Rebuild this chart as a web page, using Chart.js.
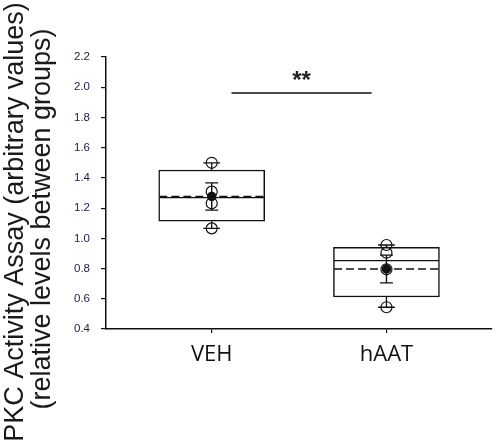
<!DOCTYPE html>
<html><head><meta charset="utf-8">
<script src="https://cdn.jsdelivr.net/npm/chart.js@4"></script>
<style>html,body{margin:0;padding:0;background:#fff}#wrap{width:498px;height:445px;position:relative}</style>
</head><body><div id="wrap"><canvas id="c" width="498" height="445"></canvas></div>
<script>
// ---- data ----
const groups = ['VEH', 'hAAT'];
const groupPos = [1, 2];
const q1 = [1.113, 0.612];
const q3 = [1.452, 0.941];
const medians = [1.270, 0.852];
const means = [1.277, 0.797];
const sem = [0.090, 0.092];
const whiskerLow = [1.066, 0.544];
const whiskerHigh = [1.500, 0.956];
const pointsVEH = [1.500, 1.309, 1.232, 1.066];
const pointsHAAT = [0.956, 0.905, 0.795, 0.544];
const yTicks = [0.4, 0.6, 0.8, 1.0, 1.2, 1.4, 1.6, 1.8, 2.0, 2.2];
const yTitleLines = ['PKC Activity Assay (arbitrary values)', '(relative levels between groups)'];
const sigLabel = '**';
const sigSpan = [1.113, 1.915];
const sigY = 1.962;
const sigTextY = 2.068;

// ---- styling constants ----
const boxHalf = 0.30;
const capHalf = 0.048;
const errCapHalf = 0.037;
const INK = '#111';

function hSegs(vals, half) {
  const out = [];
  groupPos.forEach((c, i) => {
    out.push({x: c - half, y: vals[i]}, {x: c + half, y: vals[i]}, {x: c, y: null});
  });
  return out;
}
const whiskerData = [];
groupPos.forEach((c, i) => {
  whiskerData.push({x: c, y: q3[i]}, {x: c, y: whiskerHigh[i]}, {x: c, y: null});
  whiskerData.push({x: c - capHalf, y: whiskerHigh[i]}, {x: c + capHalf, y: whiskerHigh[i]}, {x: c, y: null});
  whiskerData.push({x: c, y: q1[i]}, {x: c, y: whiskerLow[i]}, {x: c, y: null});
  whiskerData.push({x: c - capHalf, y: whiskerLow[i]}, {x: c + capHalf, y: whiskerLow[i]}, {x: c, y: null});
});
const errData = [];
groupPos.forEach((c, i) => {
  const lo = means[i] - sem[i], hi = means[i] + sem[i];
  errData.push({x: c, y: lo}, {x: c, y: hi}, {x: c, y: null});
  errData.push({x: c - errCapHalf, y: hi}, {x: c + errCapHalf, y: hi}, {x: c, y: null});
  errData.push({x: c - errCapHalf, y: lo}, {x: c + errCapHalf, y: lo}, {x: c, y: null});
});
const rawPts = [
  ...pointsVEH.map(v => ({x: groupPos[0], y: v})),
  ...pointsHAAT.map(v => ({x: groupPos[1], y: v}))
];
const meanPts = groupPos.map((c, i) => ({x: c, y: means[i]}));
const sigData = [{x: sigSpan[0], y: sigY}, {x: sigSpan[1], y: sigY}];

const lineBase = {type: 'line', borderColor: INK, borderWidth: 1.5, pointRadius: 0, fill: false, tension: 0, spanGaps: false};

const extras = {
  id: 'extras',
  afterDraw(chart) {
    const ctx = chart.ctx;
    const xs = chart.scales.x, ys = chart.scales.y;
    ctx.save();
    ctx.fillStyle = '#1a1a1a';
    ctx.font = '27px "Liberation Sans", Arial, sans-serif';
    ctx.textAlign = 'center';
    ctx.textBaseline = 'alphabetic';
    const bx = [23, 50], cy = [222, 219];
    yTitleLines.forEach((t, i) => {
      ctx.save();
      ctx.translate(bx[i], cy[i]);
      ctx.rotate(-Math.PI / 2);
      ctx.fillText(t, 0, 0);
      ctx.restore();
    });
    ctx.font = 'bold 24px "Liberation Sans", Arial, sans-serif';
    ctx.textBaseline = 'middle';
    ctx.fillStyle = '#222';
    ctx.fillText(sigLabel, xs.getPixelForValue((sigSpan[0] + sigSpan[1]) / 2), ys.getPixelForValue(sigTextY) + 4);
    ctx.restore();
  }
};

new Chart(document.getElementById('c'), {
  type: 'bar',
  data: {
    datasets: [
      Object.assign({}, lineBase, {data: meanPts, showLine: false, pointRadius: 4, pointBackgroundColor: INK, pointBorderColor: INK, order: 1}),
      Object.assign({}, lineBase, {data: errData, borderWidth: 1.4, order: 2}),
      Object.assign({}, lineBase, {data: rawPts, showLine: false, pointRadius: 5.5, pointBorderWidth: 1.2, pointBackgroundColor: 'rgba(0,0,0,0)', pointBorderColor: INK, order: 3}),
      Object.assign({}, lineBase, {data: hSegs(means, boxHalf), borderDash: [8, 4], order: 4}),
      Object.assign({}, lineBase, {data: hSegs(medians, boxHalf), borderWidth: 1.3, order: 5}),
      Object.assign({}, lineBase, {data: whiskerData, borderWidth: 1.3, order: 6}),
      Object.assign({}, lineBase, {data: sigData, borderWidth: 1.6, order: 7}),
      {type: 'bar', data: groupPos.map((c, i) => ({x: c, y: [q1[i], q3[i]]})), barThickness: 106,
       backgroundColor: '#fff', borderColor: INK, borderWidth: 1.5, borderSkipped: false, order: 8}
    ]
  },
  options: {
    responsive: false,
    animation: false,
    layout: {padding: {top: 57, right: 2, left: 0, bottom: 0}},
    plugins: {legend: {display: false}, tooltip: {enabled: false}},
    scales: {
      x: {
        type: 'linear', min: 0.395, max: 2.6, offset: false,
        afterBuildTicks: s => { s.ticks = groupPos.map(v => ({value: v})); },
        afterFit: s => { s.height = 116; },
        ticks: {
          autoSkip: false, maxRotation: 0, padding: 9, color: '#111',
          font: {family: '"Open Sans", sans-serif', size: 22},
          callback: v => groups[groupPos.indexOf(v)]
        },
        grid: {offset: false, drawOnChartArea: false, drawTicks: true, tickLength: 4, color: INK, lineWidth: 1.2},
        border: {display: true, color: INK, width: 1.5}
      },
      y: {
        min: 0.4, max: 2.2,
        afterBuildTicks: s => { s.ticks = yTicks.map(v => ({value: v})); },
        afterFit: s => { s.width = 106; },
        ticks: {
          padding: 11, color: '#1c1c4a',
          font: {family: '"Liberation Sans", Arial, sans-serif', size: 11.5},
          callback: v => v.toFixed(1)
        },
        grid: {drawOnChartArea: false, drawTicks: true, tickLength: 5, color: INK, lineWidth: 1.2},
        border: {display: true, color: INK, width: 1.5}
      }
    }
  },
  plugins: [extras]
});
</script>
</body></html>
